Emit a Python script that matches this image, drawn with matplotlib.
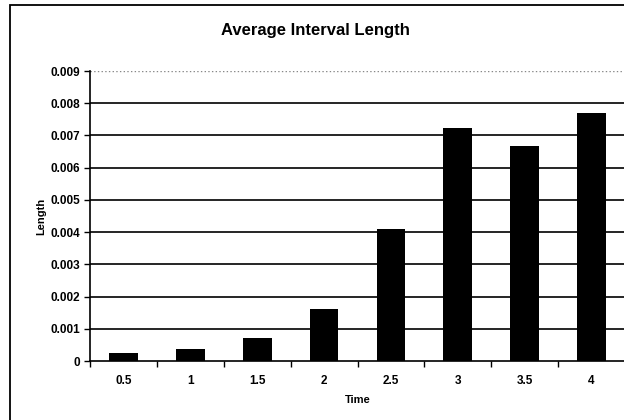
import matplotlib
matplotlib.use("Agg")
import matplotlib.pyplot as plt
from matplotlib.patches import Rectangle
import numpy as np

categories = ["0.5", "1", "1.5", "2", "2.5", "3", "3.5", "4"]
values = [0.00025, 0.00037, 0.0007, 0.0016, 0.0041, 0.00724, 0.00668, 0.00769]
yticks = [0, 0.001, 0.002, 0.003, 0.004, 0.005, 0.006, 0.007, 0.008, 0.009]
ytick_labels = ["0", "0.001", "0.002", "0.003", "0.004", "0.005", "0.006", "0.007", "0.008", "0.009"]

plt.rcParams['font.family'] = ['Liberation Sans', 'DejaVu Sans']
plt.rcParams['font.weight'] = 'bold'

fig = plt.figure(figsize=(6.24, 4.2), dpi=100)
fig.patch.set_facecolor('white')
# outer chart border
fig.patches.append(Rectangle((10/624, -0.01), 1.0, 1 - 5/420 + 0.01,
                             transform=fig.transFigure, fill=False,
                             edgecolor='black', linewidth=1.3))

ax = fig.add_axes([90/624, 1 - 361/420, 535/624, (361 - 71)/420])
x = np.arange(len(categories))
ax.bar(x, values, width=0.43, color='black', zorder=3)

ax.set_xlim(-0.5, len(categories) - 0.5)
ax.set_ylim(0, 0.009)
ax.set_yticks(yticks)
ax.set_yticklabels(ytick_labels, fontsize=8.5, fontweight='bold')
ax.set_xticks(x)
ax.set_xticklabels(categories, fontsize=8.5, fontweight='bold')
ax.tick_params(axis='x', length=0, pad=10)
ax.set_xticks(np.arange(-0.5, len(categories) - 0.4, 1), minor=True)
ax.tick_params(axis='x', which='minor', length=4, width=1, direction='out')
ax.tick_params(axis='y', length=4, width=1, direction='out', pad=3)

for yv in yticks[1:-1]:
    ax.axhline(yv, color='black', linewidth=1.2, zorder=1)
ax.axhline(0.009, color='#888888', linewidth=1.0, linestyle=':', zorder=1)

for s in ['top', 'right']:
    ax.spines[s].set_visible(False)
ax.spines['left'].set_linewidth(1.2)
ax.spines['bottom'].set_linewidth(1.2)

ax.set_xlabel("Time", fontsize=8, fontweight='bold', labelpad=6)
ax.set_ylabel("Length", fontsize=8, fontweight='bold', labelpad=3)
fig.text(0.505, 1 - 30/420, "Average Interval Length", ha='center', va='center',
         fontsize=12, fontweight='bold')

fig.savefig("out.png", dpi=100)
